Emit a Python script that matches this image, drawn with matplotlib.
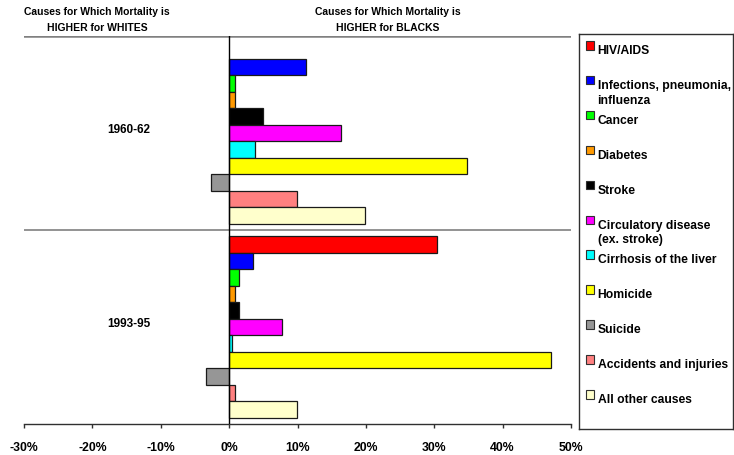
import numpy as np
import matplotlib
matplotlib.use("Agg")
import matplotlib.pyplot as plt
from matplotlib.patches import Rectangle
from matplotlib.ticker import FuncFormatter

plt.rcParams['font.family'] = ['Liberation Sans', 'DejaVu Sans']
plt.rcParams['font.weight'] = 'bold'

# excess mortality share by cause, blacks vs whites (percent)
periods = ['1960-62', '1993-95']
causes = ['HIV/AIDS', 'Infections, pneumonia,\ninfluenza', 'Cancer', 'Diabetes',
          'Stroke', 'Circulatory disease\n(ex. stroke)', 'Cirrhosis of the liver',
          'Homicide', 'Suicide', 'Accidents and injuries', 'All other causes']
colors = ['#FF0000', '#0000FF', '#00FF00', '#FF9900', '#000000', '#FF00FF',
          '#00FFFF', '#FFFF00', '#969696', '#FF8080', '#FFFFCC']
vals_1960 = [0.0, 11.3, 0.9, 0.9, 4.9, 16.3, 3.8, 34.8, -2.7, 9.9, 19.8]
vals_1993 = [30.4, 3.5, 1.4, 0.9, 1.5, 7.7, 0.4, 47.1, -3.45, 0.9, 9.9]
xticks = [-30, -20, -10, 0, 10, 20, 30, 40, 50]

W, H = 734, 456
fig = plt.figure(figsize=(W / 100, H / 100), dpi=100)
ax = fig.add_axes([24 / W, 1 - 425 / H, (571 - 24) / W, (425 - 37) / H])

n = len(causes)
h = 0.935 / n
series = [vals_1960, vals_1993]
for j in range(n):
    for p in range(len(periods)):
        v = series[p][j]
        if v == 0:
            continue
        ax.barh(p + (j - (n - 1) / 2) * h, v, height=h, color=colors[j],
                edgecolor='#1a1a1a', linewidth=0.9, zorder=3)

ax.set_xlim(-30, 50)
ax.set_ylim(1.5, -0.5)
ax.axhline(-0.5, color='#808080', lw=1.8, zorder=1)
ax.axhline(0.5, color='#808080', lw=1.2, zorder=1)
ax.axvline(0, color='black', lw=1, zorder=4)

for s in ['top', 'right', 'left']:
    ax.spines[s].set_visible(False)
ax.spines['bottom'].set_color('#303030')
ax.spines['bottom'].set_linewidth(1)
ax.set_yticks([])
ax.set_xticks(xticks)
ax.xaxis.set_major_formatter(FuncFormatter(lambda x, pos: f'{x:.0f}%'))
ax.tick_params(axis='x', direction='out', length=3, width=1, color='#303030',
               pad=9, labelsize=8.8)

for p, lab in enumerate(periods):
    ax.text(-11.5, p - 0.02, lab, ha='right', va='center', fontsize=8.5,
            fontweight='bold')

# column headers above the plot
fig.text(97 / W, 1 - 12 / H, 'Causes for Which Mortality is', ha='center',
         va='center', fontsize=7.5, fontweight='bold')
fig.text(97 / W, 1 - 28 / H, 'HIGHER for WHITES', ha='center',
         va='center', fontsize=7.5, fontweight='bold')
fig.text(388 / W, 1 - 12 / H, 'Causes for Which Mortality is', ha='center',
         va='center', fontsize=7.5, fontweight='bold')
fig.text(388 / W, 1 - 28 / H, 'HIGHER for BLACKS', ha='center',
         va='center', fontsize=7.5, fontweight='bold')

# legend box drawn by hand, pixel units inside it
lx0, ly0, lx1, ly1 = 579, 35, 733, 430
lax = fig.add_axes([lx0 / W, 1 - ly1 / H, (lx1 - lx0) / W, (ly1 - ly0) / H])
lax.set_xlim(0, lx1 - lx0)
lax.set_ylim(ly1 - ly0, 0)
lax.set_xticks([])
lax.set_yticks([])
for s in lax.spines.values():
    s.set_color('#303030')
    s.set_linewidth(1)
for j, (lab, c) in enumerate(zip(causes, colors)):
    yc = 11.5 + j * 34.9
    lax.add_patch(Rectangle((6.5, yc - 4.5), 8.5, 8.5, facecolor=c,
                            edgecolor='#303030', linewidth=0.8))
    lax.text(18.5, yc - 1.5, lab, ha='left', va='top', fontsize=8.7,
             fontweight='bold', linespacing=1.3)

fig.savefig('out.png', dpi=100)
